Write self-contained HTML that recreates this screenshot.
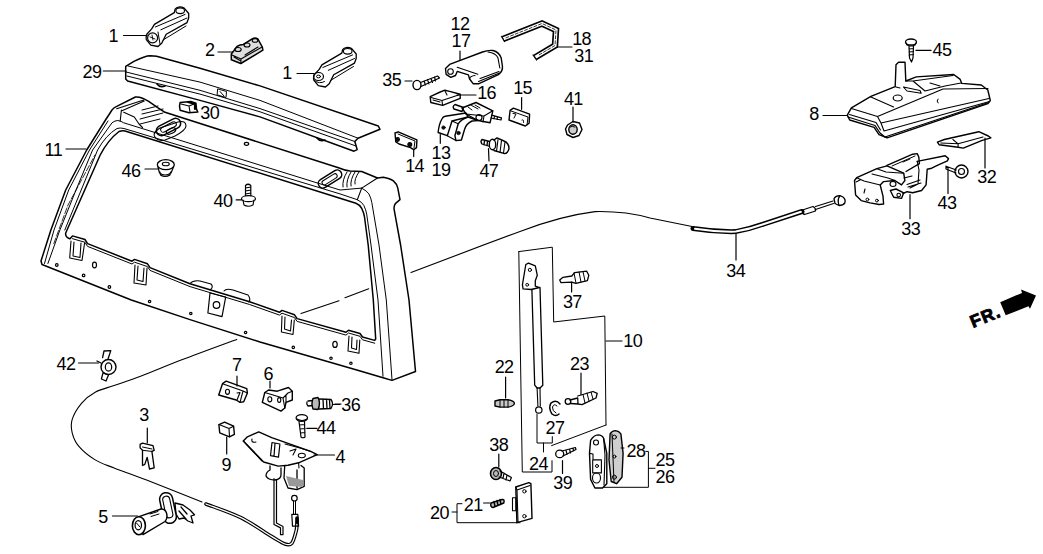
<!DOCTYPE html>
<html><head><meta charset="utf-8"><style>
html,body{margin:0;padding:0;background:#fff;width:1043px;height:554px;overflow:hidden}
svg{display:block}
text{font-family:"Liberation Sans",sans-serif;font-size:18px;letter-spacing:-0.6px;fill:#000}
</style></head><body>
<svg width="1043" height="554" viewBox="0 0 1043 554">
<g fill="none" stroke="#000" stroke-width="1.2" stroke-linecap="round" stroke-linejoin="round">
<line x1="123.5" y1="35.5" x2="147" y2="35.5"/>
<line x1="218" y1="52" x2="233" y2="52"/>
<line x1="103.3" y1="71" x2="126" y2="71"/>
<line x1="297" y1="73.5" x2="314" y2="73.5"/>
<line x1="66" y1="149" x2="86" y2="149"/>
<line x1="145" y1="169" x2="158" y2="169"/>
<line x1="405" y1="81" x2="412" y2="81"/>
<line x1="457" y1="95" x2="476" y2="95"/>
<line x1="460" y1="51" x2="460" y2="60"/>
<line x1="555" y1="47" x2="572" y2="47"/>
<line x1="521.6" y1="97.6" x2="521.6" y2="109.3"/>
<line x1="573" y1="107" x2="573" y2="122"/>
<line x1="916" y1="50.4" x2="931" y2="50.4"/>
<line x1="823" y1="115.5" x2="847" y2="115.5"/>
<line x1="985" y1="138" x2="985" y2="168"/>
<line x1="948" y1="168" x2="948" y2="193.5"/>
<line x1="910" y1="194.7" x2="910" y2="218.7"/>
<line x1="736" y1="234" x2="736" y2="260"/>
<line x1="571.6" y1="282" x2="571.6" y2="292"/>
<line x1="606" y1="341" x2="622" y2="341"/>
<line x1="581" y1="373" x2="581" y2="394.5"/>
<line x1="505.6" y1="377" x2="505.6" y2="398"/>
<line x1="78.5" y1="363" x2="98.5" y2="363"/>
<line x1="237" y1="376" x2="237" y2="386"/>
<line x1="270" y1="381" x2="270" y2="388"/>
<line x1="335" y1="404" x2="341" y2="404"/>
<line x1="147.3" y1="428" x2="147.3" y2="443"/>
<line x1="306.8" y1="428.4" x2="317" y2="428.4"/>
<line x1="226.7" y1="437" x2="226.7" y2="454"/>
<line x1="314" y1="455" x2="334.5" y2="455"/>
<line x1="498.8" y1="454" x2="498.8" y2="467"/>
<line x1="562.5" y1="460.7" x2="562.5" y2="473.4"/>
<line x1="112.5" y1="516" x2="137.7" y2="516"/>
<line x1="483.6" y1="503" x2="490" y2="503"/>
<line x1="440.3" y1="134.6" x2="440.3" y2="143.3"/>
<line x1="413.7" y1="150" x2="413.7" y2="156.6"/>
<line x1="488.5" y1="148.7" x2="489" y2="161"/>
<line x1="236.2" y1="199.9" x2="241.5" y2="199.9"/>
<!-- FRAME 11 -->
<path stroke-width="1.5" d="M42,264.5 L41,261 L50.9,230 L65.7,190 L86.7,150 L105.5,120 L112,110 Q114,107.5 116.7,106.4 L135.4,97 Q139,96.8 142.5,98.2 L148.3,101.1 L157.7,107.6 L165,112.3 L337.7,167.5 Q345,170.5 350,171 L361.7,171.5 L377.5,178 L383.3,177.3 Q390,178.5 393.4,180.9 Q397,184 397.8,188.1 L400,199.7 L395.6,203.3 Q393.5,206 394.2,209.8 L400.6,245 L409,300 L415.5,371.5 L392,380.4 L383.9,378 L356.8,370 L260,342 L190,319.6 L131.3,300 Z"/>
<!-- window B thick -->
<path stroke-width="1.5" d="M69.7,238.7 Q65,237 65.7,233 L100.2,155 Q108,140 119,131.5 Q122,130.5 125,131 L340,198.2 L355.9,203.3 Q360,205 361.7,208.3 Q364,213 364.5,217 L368.2,245 L373.3,300 L375.7,339 L374.7,340.4 L362.5,337.0 L360.0,333.5 L348.5,330.2 L346.0,332.3 L297.2,318.6 L297.0,318.5 L294.5,314.8 L282.0,310.4 L279.5,312.3 L249.6,301.7 L209.9,289.8 L190.0,283.8 L150.0,267.6 L147.5,263.8 L134.5,259.4 L132.0,261.2 L87.6,243.6 L87.5,243.6 L85.0,239.5 L72.5,235.9 L70.0,238.7 L69.7,238.7 Z"/>
<!-- window A -->
<path stroke-width="1" d="M64.8,230 L97.6,150 Q106,135 117,128.5 Q120,127.5 124,128.5 L340,193.9 L357.3,199.7 Q362,202 363.8,205.4 Q366,210 366.7,214.1 L371,245 L378,300 L383,376.3"/>
<path stroke-width="1" d="M374.7,343.2 L362.5,339.8 L360.0,336.3 L348.5,333.0 L346.0,335.1 L297.2,321.4 L297.0,321.3 L294.5,317.6 L282.0,313.2 L279.5,315.1 L249.6,304.5 L209.9,292.6 L190.0,286.6 L150.0,270.4 L147.5,266.6 L134.5,262.2 L132.0,264.0 L87.6,246.4 L87.5,246.4 L85.0,242.3 L72.5,238.7"/>
<!-- bevel lines -->
<path stroke-width="1" d="M47.9,263.5 L59.9,230 L76,190 L92.6,150 L112,122.8 Q115,120.5 117.8,120.5 Q121,121 123.7,122.8 L340,190 L361.7,188.1"/>
<path stroke-width="1" d="M361.7,188.1 Q367,191 368.9,193.9 Q371,198 371.8,202.5 L379,245 L386.3,300 L392,379.6"/>
<path stroke-width="0.8" stroke-dasharray="6 2" d="M53.8,243.6 L68,205 L95,155"/>
<path stroke-width="1" d="M44.5,263.5 L54,230 L68.7,190 L89.5,150 L108,121"/>
<!-- cap -->
<path stroke-width="1.1" d="M116.7,108.8 L143.7,100 M121.4,111.1 L144.2,101.1 M121.4,110 L120.2,121.1 M123.7,112.3 L134.3,117 L139,124 L142.5,127.5"/>
<path stroke-width="1.1" d="M377.5,178 L361.7,188.1 L357.3,199.7"/>
<!-- frame top corner details (left) -->
<path stroke-width="1.1" d="M157,139 Q150,134 160,128 L178,122 Q186,120 186,126 Q186,130 175,136 L165,140 Q160,141 157,139 Z"/>
<ellipse cx="171" cy="131" rx="5" ry="2.5" transform="rotate(-25 171 131)"/>
<path stroke-width="1" d="M142,110 L158,106 M142,114 L163,109 M140,119 L163,113 M140,124 L160,119"/>
<!-- frame right corner louvers -->
<g transform="rotate(-32 330 179)">
<rect x="317" y="174.5" width="26" height="9" rx="4.5" stroke-width="1.5"/>
<rect x="321" y="176.8" width="17" height="4.5" rx="2.2" stroke-width="1"/>
</g>
<path stroke-width="1" d="M343,187 Q342,180 347,172 M347,187 Q346,180 351,172 M351,186 Q350,180 355,172 M355,184 Q354,179 359,172"/>
<!-- holes -->
<ellipse cx="246.5" cy="143.8" rx="2.2" ry="1.5"/>
<circle cx="56.8" cy="265" r="1.3"/><ellipse cx="94.5" cy="265" rx="2" ry="2.8"/><circle cx="83.6" cy="275.4" r="1.3"/><circle cx="109.4" cy="287" r="1.3"/>
<circle cx="245.6" cy="332.5" r="1.2"/><circle cx="293.3" cy="347.4" r="1.2"/><ellipse cx="335" cy="344.4" rx="2.2" ry="3"/><circle cx="331" cy="358.3" r="1.2"/><circle cx="350.9" cy="363.3" r="1.2"/>
<circle cx="190.8" cy="313.5" r="1.2"/><circle cx="149.6" cy="301.5" r="1.2"/>
<!-- tabs -->
<path stroke-width="1.1" d="M71,241 L69.7,258 L82,260.5 L84.6,243 M74,242 L73,256 L80,257.5 L81,243"/>
<path stroke-width="1.1" d="M135,265 L134,283 L146,285 L147,268 M138,266 L137,280 L143,281.5 L144,268"/>
<path stroke-width="1.1" d="M282,316 L281.4,332 L293,334.5 L294.3,320 M285,317 L284.5,329 L290.5,331 L291.5,320"/>
<path stroke-width="1.1" d="M349,336 L348,351 L359,353.3 L359.8,340 M352,337 L351.5,348 L356.5,349.5 L357,340"/>
<!-- striker pocket -->
<path stroke-width="1.2" d="M210,293 L207.9,313 L222,316.6 L225.7,297 Z"/>
<circle cx="216.5" cy="305" r="3.3"/>
<path stroke-width="1.1" d="M190,283.5 Q193,280 200,281 L211,284 Q214,287 210,290 M224,291 Q226,288 233,290 L248,295 Q251,299 249,302"/>
<!-- SPOILER 29 -->
<path stroke-width="1.5" d="M125.7,66.4 L133.9,61.4 Q145,55.7 150.3,55.7 L156.6,56.3 L200,68.2 L260,85.9 L378.3,126 L380,129.3 L358,138.2 L354.8,141.5 L357.2,149.6 L354,151.2 L260,116.9 L200,100.4 L127.6,81 L125.7,79 Z"/>
<path stroke-width="1" d="M128,66 L200,82.1 L260,100.4 L358,138.2"/>
<path stroke-width="1" d="M126,72 L200,90.3 L260,108.6 L354.8,141.5 M127,76 L200,94.1 L260,111.8 L356,146"/>
<path stroke-width="1" d="M218,89 L226.5,91.5 L226,97.5 L217.5,95 Z M220,91.5 L224,96"/>
<path stroke-width="1.6" d="M157,84 Q160,88 165,86 M317,138 Q320,142 325,140"/>
<!-- CABLE 34 -->
<path stroke-width="1.1" d="M411,272.6 Q470,250 520,231.5 Q560,216 595,211.6 Q625,211 650,218 L692,226.5"/>
<path stroke-width="5" d="M693,228.5 Q715,232 735.6,231.6 Q750,229 763.3,224.2 L802,211.5"/>
<path stroke="#fff" stroke-width="2" d="M695,228.8 Q715,232 735.6,231.6 Q750,229 763.3,224.2 L801,211.8"/>
<path stroke-width="1.1" d="M368.7,288.8 L345,297.7 M339,300.7 L301,313.6 M236.7,339.4 C227.5,342.8 197.7,353.7 181.8,359.8 C165.9,365.9 152.5,371.7 141.2,376.0 C129.9,380.3 121.8,382.8 114.1,385.5 C106.4,388.2 100.6,389.3 95.2,392.2 C89.8,395.1 85.5,398.6 81.7,403.1 C77.9,407.6 73.8,414.4 72.2,419.3 C70.6,424.2 71.1,428.3 72.2,432.8 C73.3,437.3 75.1,441.9 78.9,446.4 C82.7,450.9 89.3,456.3 95.2,459.9 C101.1,463.5 105.5,464.6 114.1,468.0 C122.7,471.4 131.9,474.3 146.6,480.0 C161.2,485.7 192.8,498.3 202.0,502.0"/>
<path stroke-width="3.6" d="M206.0,504.0 C211.8,506.3 230.0,512.3 240.9,517.7 C251.8,523.1 264.1,532.0 271.5,536.4 C278.9,540.8 281.6,542.9 285.0,544.0 C288.4,545.1 289.9,545.3 291.8,543.2 C293.7,541.1 295.2,534.4 296.1,531.3 C297.0,528.2 296.8,525.6 296.9,524.5 L297,518"/>
<path stroke="#fff" stroke-width="1.3" d="M206.0,504.0 C211.8,506.3 230.0,512.3 240.9,517.7 C251.8,523.1 264.1,532.0 271.5,536.4 C278.9,540.8 281.6,542.9 285.0,544.0 C288.4,545.1 289.9,545.3 291.8,543.2 C293.7,541.1 295.2,534.4 296.1,531.3 C297.0,528.2 296.8,525.6 296.9,524.5"/>
<!-- BRACKETS -->
<path stroke-width="1" d="M518.8,251.6 L552.3,247.2 L553.7,322 L604.8,316 L606,425 M606,425 L551.6,445.6 M518.8,251.6 L522.3,472 L552,472 L552,460.7"/>
<path stroke-width="1" d="M537,414 L537,443 L552.3,443 L552.3,436.7 M543.5,443 L543.5,452"/>
<path stroke-width="1" d="M645.8,451.4 L648.4,451.4 L648.4,487.3 L603.4,487.3 M648.4,468.3 L655,468.3"/>
<path stroke-width="1" d="M452,512 L457,512 M462,503.7 L457,503.7 L457,522.7 L520,522.7"/>
<!-- FR arrow -->
<polygon fill="#000" stroke="none" points="1000.2,302.3 1022,292.9 1021,289.4 1036,295.4 1030,308.8 1028.5,306.3 1005.7,315.3"/>

<!-- PART 1 (top) -->
<g id="p1">
<path stroke-width="1.3" d="M146.8,34.3 Q145.5,38 146.3,39.7 L150.8,45.1 L158,46.5 L161.7,43.3 L166.2,34.3 L187,22.6 L188.7,18 L188.7,13.5 L184.2,8.1 Q182,6.8 179.7,6.8 Q176,7.5 175.2,9 L174.3,12.6 L154.4,24.4 L151.7,28.9 Z"/>
<circle cx="152.6" cy="37.9" r="5" stroke-width="1.2"/>
<path stroke-width="0.9" d="M150,37 L155,39 M152,35 L153,40"/>
<ellipse cx="180.2" cy="10.8" rx="4.3" ry="2.8" stroke-width="1.1"/>
<path stroke-width="1" d="M155.3,27 L185.1,14.4 M160.8,29.8 L187,18 M158,32 L160,44 M163,40 L186,26"/>
</g>
<!-- PART 1b -->
<g transform="translate(167.5,40.5)">
<path stroke-width="1.3" d="M146.8,34.3 Q145.5,38 146.3,39.7 L150.8,45.1 L158,46.5 L161.7,43.3 L166.2,34.3 L187,22.6 L188.7,18 L188.7,13.5 L184.2,8.1 Q182,6.8 179.7,6.8 Q176,7.5 175.2,9 L174.3,12.6 L154.4,24.4 L151.7,28.9 Z"/>
<ellipse cx="151" cy="36" rx="5" ry="4" stroke-width="1.2"/>
<ellipse cx="151" cy="36" rx="2" ry="1.4" stroke-width="1"/>
<ellipse cx="180.2" cy="10.8" rx="4.3" ry="2.8" stroke-width="1.1"/>
<path stroke-width="1" d="M155.3,27 L185.1,14.4 M160.8,29.8 L187,18 M163,40 L186,26 M147,40 Q152,44 157,41"/>
</g>
<!-- PART 2 -->
<path stroke-width="1.5" fill="#ddd" d="M231.3,54 L231.3,59.7 L240.8,63.5 L262.9,50.2 L262.3,47 L257.8,38.8 Q255,37 252.2,38.8 L243.3,44.5 Q240,44.5 237,46.4 L233.8,50.8 Z"/>
<path stroke-width="1.1" d="M232,55 L241,59 L262,47 M241,59 L240.8,63.5 M234,57 L240,60.5 M245,55 L258,47"/>
<ellipse cx="238" cy="49.5" rx="3.2" ry="2" stroke-width="1.1"/>
<ellipse cx="247" cy="45" rx="3" ry="2" stroke-width="1.1"/>
<ellipse cx="255" cy="40.5" rx="2.8" ry="1.8" stroke-width="1.1"/>
<!-- PART 30 -->
<path stroke-width="1.5" d="M180.1,102.6 L190.8,101.4 L195.9,103.3 L196.5,109 L197.8,112.1 L189,112.7 L180.1,110.2 L179.5,105.8 Z"/>
<path stroke-width="1.1" d="M181,104 L189,106 L190,112 M189,106 L195.9,103.3"/>
<path stroke-width="2.2" d="M188,102 L195,104 L195,109"/>
<!-- slot on frame top left -->
<g transform="rotate(-27 168.5 127)">
<rect x="155.5" y="122" width="26" height="10" rx="5" stroke-width="1.5"/>
<rect x="160" y="124.5" width="17" height="5" rx="2.5" stroke-width="1"/>
</g>
<!-- PART 46 nut -->
<ellipse cx="165.8" cy="164.7" rx="8.5" ry="5" stroke-width="1.3"/>
<ellipse cx="165.8" cy="164" rx="3.5" ry="1.8" stroke-width="1.1"/>
<path stroke-width="1.2" d="M158,167 L159.5,173 Q165,177 171,173 L173.5,167 M160,172 L160.5,175 Q165,178 170,175 L170.5,172"/>
<!-- PART 40 bolt -->
<path stroke-width="1.2" d="M245.5,195.5 L245.5,185.5 Q248,183 250.8,185.5 L250.8,195.5 M245.5,188 L250.8,187 M245.5,191 L250.8,190 M245.5,194 L250.8,193"/>
<ellipse cx="248.5" cy="198.7" rx="7" ry="3" stroke-width="1.2"/>
<path stroke-width="1.2" d="M243,200 L244,205 Q248,207.5 253,205 L254,200"/>
<!-- PART 12 cover -->
<path stroke-width="1.4" d="M445.5,68.5 L446.1,74.3 L450.8,77.3 L455.5,75.5 L457.2,71.4 L468.4,74.9 L469.6,79 L473.1,83.7 L479,83.7 L498.9,74.3 Q503,71 502.4,66 L501.2,58 Q499,52 493,50.5 Q488,50 482.5,52 L449.6,64.4 Z"/>
<path stroke-width="1.1" d="M457.2,67.3 L477.8,74.3 M469.6,79 Q470,76 475,75.5 M480.1,78.5 L499,71.5 M478.5,81.5 L499.5,73 M488,52 Q496,53 498,58 L499.8,68"/>
<circle cx="450.5" cy="71.5" r="2.8" stroke-width="1.1"/>
<!-- PART 35 screw -->
<ellipse cx="417" cy="85" rx="4" ry="4.6" stroke-width="1.4"/>
<path stroke-width="1.2" d="M420.5,82.5 L437.5,76 L439.5,78 L421,86.5 M424,81 L425.5,85 M427.5,79.5 L429,84 M431,78.5 L432.5,82.5 M434.5,77 L435.5,81"/>
<!-- PART 16 connector -->
<path stroke-width="1.4" d="M430.2,96.6 L430.8,102.5 L442.6,105.4 L460.2,98.4 L460.2,94.3 L449.6,91.4 L444.9,90.2 L440.2,92 Z"/>
<path stroke-width="1.1" d="M431,97.5 L442,100.5 L460,94.5 M442,100.5 L442.6,105.4 M433,100 L440,102 M445,91 L447,95"/>
<!-- PART 18 rod -->
<path stroke-width="6.5" stroke-linecap="butt" stroke-linejoin="miter" d="M503,39 L542,23.5 L556,30 L555,45.5 L535,57.5"/>
<path stroke="#fff" stroke-width="3.2" stroke-linecap="butt" stroke-linejoin="miter" d="M503.5,38.8 L542,23.5 L556,30 L555,45.5 L535.5,57.2"/>
<path stroke-width="0.8" stroke-dasharray="3 2" d="M506,37.8 L542,23.5 L556,30 L555,45.5 L538,55.5"/>
<path stroke-width="1.2" d="M501.5,36.5 L504.5,41.5 M533,55 L536.5,60"/>
<!-- PART 13 hinge -->
<path stroke-width="1.4" d="M462,108 L476,102.5 L492.8,110.8 L490.1,122.7 L478,120.5 L466,114 Z"/>
<path stroke-width="1.1" d="M466,114 L484,116 L492.8,110.8 M484,116 L483,122"/>
<circle cx="479" cy="117.5" r="3" stroke-width="1.2"/>
<path stroke-width="1" d="M468,107 L472,110 M475,105 L480,108 M470,104.5 L478,109"/>
<path stroke-width="1.4" d="M455,104.5 Q452,106.5 454,109 L462,111.5 L463.5,107.5 Z"/>
<path stroke-width="1.2" d="M491.7,115.2 L501.5,117.9 L501,120 L491,118 M494.5,116 L494,119 M497.5,117 L497,119.5"/>
<path stroke-width="1.4" d="M445.2,116.2 L466,113 L468,117 L452,121 L447.3,135.7 L438.1,132.5 Q439,124 441.9,119 Q443,116.5 445.2,116.2 Z"/>
<path stroke-width="1.4" d="M468,117 L478,120.5 L472,121 Q466,124 464.6,129.2 L461.4,140 L456,140.6 L454.9,135.7 L458.2,123.8 Q461,119.5 468,117 Z"/>
<path stroke-width="1.1" d="M447.3,135.7 L456,140.6 M452,121 L458.2,123.8"/>
<circle cx="443.5" cy="127.6" r="1.7" fill="#111" stroke-width="0.8"/>
<circle cx="458.5" cy="133" r="1.7" fill="#111" stroke-width="0.8"/>
<!-- PART 15 plate -->
<path stroke-width="1.4" d="M510.1,110.3 L513.4,108.1 L529.6,114.1 L529.1,123.3 L525.3,126 L509,120 Z"/>
<path stroke-width="1" d="M511,111 L528,117 L527,125 M513,113.5 L516,114 L514,118 M522,120 Q524,119 523.5,122.5"/>
<!-- PART 47 bolt -->
<path stroke-width="1.3" d="M482,139.5 Q480,141.5 482,144 L490,146.5 L491.5,142 Z M484.5,140.5 L484,144.8 M487.5,141.3 L487,145.6"/>
<ellipse cx="492.5" cy="144.5" rx="3.2" ry="5.3" stroke-width="1.4" fill="#fff"/>
<path stroke-width="1.4" d="M494,140 L497,137.9 L504,141 Q509,143 509,148.7 Q507.5,153.5 504.7,153.6 L493.9,150.5"/>
<path stroke-width="1.1" d="M498,139.5 L496.5,151.5 M501.5,140.5 L500,152.5 M505,142 L503.5,153"/>
<!-- PART 14 -->
<path stroke-width="1.4" d="M395,133 L398.2,131.8 L416.9,139.9 L416.5,147.6 L413.7,149.7 L410.4,147.6 L399.1,144 L395.8,141.9 Z"/>
<path stroke-width="1" d="M398,134 L415,141 L414,148"/>
<circle cx="397.6" cy="139.5" r="1.8" fill="#111"/>
<circle cx="409.8" cy="144.6" r="1.9" fill="#111"/>
<!-- PART 41 nut -->
<path stroke-width="1.4" d="M567.5,125 L573,121.5 L579.5,123 L582,129.5 L579,135.5 L573,137.5 L567,134.5 L565.5,129 Z"/>
<ellipse cx="573" cy="129.5" rx="4.2" ry="4.8" stroke-width="1.4" fill="#ccc"/>
<path stroke-width="1" d="M570,127 Q572,125.5 575,127"/>

<!-- PART 45 screw -->
<ellipse cx="911" cy="42" rx="5.5" ry="3" stroke-width="1.3"/>
<path stroke-width="1.2" d="M906,43 L907,45 Q911,47 915,45 L916,43 M909,46 L909.5,58 L911.5,62 L913,58 L913.5,46 M909,49 L913.5,48.5 M909,52 L913.5,51.5 M909,55 L913.5,54.5"/>
<!-- PART 8 lamp -->
<path stroke-width="1.4" d="M847.3,115.1 L851.4,107.8 L870.9,96.4 L895.2,86.7 L896,64.7 L898.5,62.3 L905,62.3 L905.8,81 L916.3,76.9 L953.7,74.5 L960.2,79.4 L961.8,83.4 L981.3,85 L987.8,90 L990.3,100.5 L987.8,103.7 L887.1,137.8 L879,134.6 L874.1,127.3 L849.7,120 Z"/>
<path stroke-width="1.1" d="M851.4,108.5 L877.5,116.5 L881,123 L884,131 M849.5,114.5 L876,122.5 L880.5,130 M877.5,116.5 L943,89 L988,88.5 M870.9,97 L893.6,107 M881,123 L989,98.5 M884,131 L989.5,101.5 M896,87 L900,88 M905.8,81 L913,81 L953,75.5 M913,81 L925,91 L945,86 L961,83"/>
<path stroke-width="1.1" d="M903.4,87 L920,90.5 L921.2,93.2 L907,91 Z M930,83 L940,86"/>
<ellipse cx="897.7" cy="98" rx="4.5" ry="3" stroke-width="1.2"/>
<path stroke-width="1.3" d="M848,117 L875,125.5 L880,133 L885,137 L988.5,102.5"/>
<path stroke-width="1" d="M938,99 Q936,101 938,103"/>
<!-- PART 32 pad -->
<path stroke-width="1.4" d="M937.4,142.1 L939.1,144.7 L958.1,147.3 L963.3,148.1 L982.2,140.4 L990.9,137.8 L988.3,136 L978.8,131.7 L944.3,139.5 Z"/>
<path stroke-width="1.1" d="M940.8,143 L958.1,143.8 L983,137 M952.9,139.5 L958.1,143.8 L958.1,147.3"/>
<!-- PART 33 latch -->
<path stroke-width="1.4" d="M856.7,177.7 L854.5,180.5 L855.6,195 L861.2,200.6 L870.1,202.9 L879.1,204.5 L883.6,204 L883,196.1 L880.2,185 L883.6,181.6 L894.8,180.5 L901.5,184.9 L904.9,180.5 L903.7,173.2 L887,165.9 L876.9,168.7 Z"/>
<path stroke-width="1.1" d="M856.7,177.7 L864,181 L880.2,185 M876.9,168.7 L886,172 L903.7,173.2 M872,174 L888,178 L894.8,180.5 M865,189 L864,193 M856,182 L860,180"/>
<path stroke-width="1.4" d="M887,165.4 L912.7,154.2 L917.2,153.6 L918.8,157 L919.4,163.7 L906,171.5"/>
<path stroke-width="1" d="M892,166 L915,156 M903,162 L910,159"/>
<path stroke-width="1.4" d="M917.2,161.4 L945.2,155.8 L948.5,158.6 L947.4,160.9 L937.3,165.4 L931.7,168.2 L927.2,169.3 L926.1,184.9 L921.6,190.5 L912.7,192.8 L907.1,191.7 L903,193.5"/>
<path stroke-width="1.1" d="M917.2,161.4 L919,170 L918,184 L910,188 M908,187 L921,183 M907,184.5 L920,180 M904,178 L912,176"/>
<path stroke-width="1.4" d="M890.3,190.5 L893.7,197.3 L901.5,198.4 L903.7,192.8 L896,189 Z"/>
<circle cx="898.7" cy="195" r="1.8" stroke-width="1.1"/>
<circle cx="867.4" cy="199.5" r="1.4" stroke-width="1"/>
<circle cx="876.9" cy="200.6" r="1.4" stroke-width="1"/>
<ellipse cx="893" cy="184" rx="3" ry="2.5" stroke-width="1.1"/>
<!-- PART 43 bolt -->
<circle cx="961.5" cy="171.5" r="6.5" stroke-width="1.4"/>
<circle cx="961.5" cy="171.5" r="3" stroke-width="1.1"/>
<path stroke-width="1.2" d="M946,166.2 L956.3,170 M946,169 L956,173 M946,166.2 L946,169"/>
<!-- cable end ferrule -->
<path stroke-width="1.2" d="M815.5,206.5 L833,201 M815.5,209.5 L833.5,203.5"/>
<path stroke-width="1.3" d="M802.5,210 L813,206.5 Q816,208 815.5,211 L804.5,214.5 Q802,213.5 802.5,210 Z"/>
<path stroke-width="1.3" d="M834,198.5 Q836,195.5 840,195.7 L843,197 Q846,199.5 844.8,203 Q843,205.5 839,205.5 L835,203.5 Z M840,195.7 Q837,199 839,205.5"/>
<!-- GAS STRUT 10 -->
<path stroke-width="1.3" d="M525.8,264.5 L528.5,263.1 L535.3,265.8 L537.3,275.3 L535.3,280.7 L535.3,286.1 L539.4,287.5 L531.2,289.5 L523.1,288.8 L522.4,284.8 Z"/>
<circle cx="529.9" cy="269.9" r="1.6" stroke-width="1"/>
<circle cx="527.2" cy="284.8" r="1.4" stroke-width="1"/>
<path stroke-width="1.3" d="M531.9,289.5 L534.7,385.2 L537.1,388 L540,388 L542.8,385.2 L540,287.5"/>
<path stroke-width="1.1" d="M537.1,388 L537.9,406 M540,388 L540.3,406"/>
<circle cx="538.8" cy="410" r="3.2" stroke-width="1.2"/>
<!-- PART 37 bolt -->
<path stroke-width="1.3" d="M559.7,280 L563,277.3 L571.8,276 L574.6,272.6 L586.7,271.2 L588.8,275.3 L587.4,280.7 L575.9,283.4 L571.8,282.1 L561,282.7 Z"/>
<path stroke-width="1" d="M574,273 L576,283 M579,272 L581,282 M583,271.5 L585,281"/>
<!-- PART 22 bolt -->
<path stroke-width="1.4" fill="#c8c8c8" d="M495,401 L500,399.8 L508,399.8 Q514.4,401 514.4,403.5 Q514,406 508,407.1 L500,407.1 L495,406 Z"/>
<path stroke-width="1" d="M500,399.8 L500,407.1 M504,400 L504,407 M508,399.8 L508,407.1"/>
<!-- PART 23 bolt -->
<circle cx="568" cy="401.5" r="2.8" stroke-width="1.3"/>
<path stroke-width="1.3" d="M570,400 L577.7,398 L578,404 L570.5,403.5 M577.7,396 L593,391.5 L597.2,393.3 L596,398 L582,404.7 L578,404"/>
<path stroke-width="1" d="M583,394.5 L585,403 M587,393 L589,401 M591,392 L593,399"/>
<!-- PART 27 snap ring -->
<path stroke-width="1.5" d="M560,404 Q556,399 551,403 Q548,408 552,414 Q556,417 559,414"/>
<path stroke-width="1" d="M557,406 Q554,403 552.5,407 Q552,411 556,413"/>
<!-- PART 38 bolt -->
<ellipse cx="496" cy="473.5" rx="5.5" ry="6" stroke-width="1.6" fill="#bbb"/>
<ellipse cx="496" cy="473.5" rx="2.5" ry="3" stroke-width="1"/>
<path stroke-width="1.2" d="M500,471 L511.4,477.5 L510,481 L499,477 M504,473 L503,478.5 M507,475 L506,480"/>
<!-- PART 20 plate -->
<path stroke-width="1.4" d="M515.8,487 L528.8,482.6 L530.9,483.7 L532,518.4 L516.9,522.7 Z"/>
<path stroke-width="1.1" d="M515.8,487 L517,490 L530,485.5 M517,490 L518,522 M512.5,497.8 L515.8,497.8 L515.8,510.8 L512.5,510.8 Z"/>
<circle cx="524.4" cy="491.3" r="1.7" stroke-width="1"/>
<circle cx="524.4" cy="516.2" r="1.7" stroke-width="1"/>
<!-- PART 21 spring -->
<path stroke-width="1.4" fill="#bbb" d="M491,503 Q490,507 493,507.5 L503.8,503 Q505,499 502,499.5 Z M494,501.5 L495,506.5 M497,500.5 L498,505.5 M500,499.5 L501,504.5"/>
<!-- PART 39 screw -->
<ellipse cx="559.7" cy="453.9" rx="4" ry="3.8" stroke-width="1.3"/>
<path stroke-width="1.2" d="M562,451 L575.4,447.5 L576,449.5 L563,456 M566,450 L567,454.5 M569.5,449 L570.5,453 M573,448 L573.5,451"/>
<!-- PART 25/26 plates -->
<path stroke-width="1.4" d="M590.6,440.3 Q594,435 598.1,434.9 Q602,435 603.6,438.2 L606.8,453.4 L606.8,483.7 L602.5,488 L594.9,488 L590.6,479.4 L589.5,453.4 Z"/>
<path stroke-width="1.1" d="M589.5,453.4 L593,454 L593,459.9 L601.4,459.9 L601.4,472.9 L592.7,472.9 L592.7,459.9 M603.6,438.2 L605,455 L604,485"/>
<circle cx="596" cy="442.5" r="2.5" stroke-width="1.1"/>
<ellipse cx="596.5" cy="478" rx="4" ry="5" stroke-width="1.1"/>
<circle cx="597" cy="466" r="1.5" stroke-width="1"/>
<path stroke-width="1.4" fill="#cfcfcf" d="M610.1,433.8 Q612,430.6 615.5,430.6 Q619,431 620.9,433.8 L623.1,453.4 L622,477.2 L616.6,483.7 L611.2,481.5 L609,459.9 Z"/>
<path stroke-width="1" d="M612,434 L614,482 M621,448 L624,448"/>
<circle cx="614.4" cy="437.1" r="2" stroke-width="1"/>
<circle cx="614.4" cy="456.6" r="1.5" stroke-width="1"/>
<circle cx="614.4" cy="477.2" r="2" stroke-width="1"/>
<!-- PART 7 -->
<path stroke-width="1.4" d="M218.7,395 L222.5,383.7 L226.2,381.2 L246.8,388.7 L247.4,393.1 L243.7,401.8 L240,402.4 L236.2,400 Z"/>
<path stroke-width="1.1" d="M222.5,383.7 L243,391 L247.4,393.1 M243,391 L240,402.4 M237,393 L240,392.5 L237,400"/>
<ellipse cx="227.5" cy="391.8" rx="2" ry="2.6" stroke-width="1.1"/>
<!-- PART 6 -->
<path stroke-width="1.4" d="M262.3,402.4 L264.8,392.5 L268.6,390 L277.3,391.2 L288.5,387.5 L292.3,391.2 L292.3,400 L286,402.4 L284.8,408 L281,411.1 Z"/>
<path stroke-width="1.1" d="M264.8,392.5 L283,398 L284.8,408 M283,398 L288,393 L292.3,391.2 M286,402.4 L286,395"/>
<ellipse cx="269.8" cy="399.3" rx="2" ry="2.6" stroke-width="1.1"/>
<ellipse cx="279.2" cy="400" rx="1.6" ry="2.4" stroke-width="1.1"/>
<!-- PART 36 bolt -->
<path stroke-width="1.3" d="M307,402 Q306,404 308,406 L313,405.5 M313,400.5 L308,401"/>
<path stroke-width="1.4" fill="#bbb" d="M313,398.5 L318,397.5 Q321,403 318,409.5 L313,409 Q311,403.5 313,398.5 Z"/>
<path stroke-width="1.3" d="M319,399 L331,399.5 Q334,403.5 331,408.5 L319,409 M323,399 L323.5,409 M326.5,399.2 L327,408.8 M329.5,399.3 L330,408.6"/>
<path stroke-width="1" d="M333.4,404.5 L340,404.5"/>
<!-- PART 44 screw -->
<ellipse cx="301.8" cy="418" rx="5.7" ry="3.3" stroke-width="1.3"/>
<path stroke-width="1.2" d="M297,419 Q302,422 307,419 M299,421.5 L301,437 Q303,438.5 305,437 L304.5,421.5 M299.5,425 L304.5,424.5 M300,429 L305,428.5 M300.5,433 L305,432.5"/>
<!-- PART 9 -->
<path stroke-width="1.4" d="M218.9,424.6 L219.7,432.8 L229.5,436.8 L234.4,434.4 L233.6,426.2 L224.6,422.2 Z"/>
<path stroke-width="1.1" d="M219,424.6 L229,428.5 L233.6,426.2 M229,428.5 L229.5,436.8"/>
<!-- PART 4 latch -->
<path stroke-width="1.4" d="M243.3,440.9 L247.4,436.8 L258.7,431.9 L271.7,437.6 L283.1,441.7 L310.7,451.4 L317.2,454.7 L298.6,462.8 L288,465.2 L278.2,466.1 L263.6,462 Z"/>
<path stroke-width="1.1" d="M243.3,440.9 L246,444 L262,461 M252,439 Q251,443 256,442 M285,444 L300,448 L310.7,451.4 M290,451 L296,449 L293,455 M298.6,462.8 L299,468"/>
<path stroke-width="1.2" d="M272,442.5 L279.9,444 L278.5,457.1 L270.5,455.6 Z M275,443.5 L274,456"/>
<ellipse cx="301.8" cy="455.5" rx="3.5" ry="2.2" stroke-width="1.1"/>
<path stroke-width="1.3" d="M270,466 L270,470 Q266,472 266,476 Q268,480 275,480 Q281,479 281,475 L281,468 M284.7,466 L284,478 L288,488 L297,489.7 L304.2,486.4 L304.2,468 L301,465.5 M288,478 L298,481 M291,482 L302,484 M297,470 L297,488"/>
<path stroke="none" fill="#999" d="M286,476 L303,480 L303,487 L289,486 Z"/>
<path stroke-width="1.2" d="M274,478.7 L274,524.5 L280.5,527.9 L280.5,534.7 M276.5,480 L276.5,523 L283,526.5 L283,534.7 M280.5,534.7 L283,534.7"/>
<circle cx="294.4" cy="498.2" r="2.8" stroke-width="1.2"/>
<path stroke-width="1" d="M293.5,501 L293.5,514.3 M295.5,501 L295.5,514.3"/>
<path stroke-width="1.2" d="M291.8,514.3 L297.8,514.3 L298.6,526.2 L292.5,526.2 Z"/>
<!-- PART 3 clip -->
<path stroke-width="1.3" d="M140.1,444.4 L142.5,443.2 L153,445.6 L154.2,450.3 L151.9,451.4 L154.2,467.9 L149.5,469 L147.2,457.3 L144.8,464.4 L142.5,465.5 L142.5,450.3 L140.1,447.9 Z"/>
<path stroke-width="1" d="M142.5,447 L152,449 M142.5,450.3 L151.9,451.4"/>
<!-- PART 42 clip -->
<ellipse cx="108.5" cy="367" rx="7.5" ry="7.5" stroke-width="1.4"/>
<ellipse cx="108.5" cy="367" rx="3.2" ry="4.2" stroke-width="1.2"/>
<path stroke-width="1.3" d="M102.6,357.6 L104,351 L110.8,350.6 L108,359 M101.4,379 L103,372.8 L108.5,375 L106,381 Z M101,363 L97,361"/>
<!-- PART 5 lock -->
<path stroke-width="1.3" d="M175,503 L183,505 L190,510 L194.5,514.8 L191,516 L193,523 L188,521 L184,518 L179,519 L176,514 Z M181,507 L187,514 M179,511 L186,519"/>
<g transform="rotate(-12 168 508)">
<rect x="161.5" y="492.5" width="13" height="31" rx="6.5" stroke-width="1.5" fill="#fff"/>
<rect x="164.5" y="496" width="7" height="22" rx="3.5" stroke-width="1.1"/>
</g>
<path stroke-width="1.4" fill="#fff" d="M139,516.7 L161,509 Q165,508.5 166.5,513 Q168,518 165,521.5 L143,534.6 Z"/>
<path stroke-width="1" d="M150,514 L158,511.5 M151,516.5 L159,514"/>
<ellipse cx="138.9" cy="525.7" rx="6.5" ry="9" stroke-width="1.6" fill="#fff"/>
<ellipse cx="138.3" cy="525.2" rx="3.2" ry="4.6" stroke-width="1.2"/>
<path stroke-width="1" d="M136.5,523 L140,527"/>

</g>
<g><text x="108.6" y="42.0">1</text>
<text x="205.1" y="56.0">2</text>
<text x="82.6" y="77.8">29</text>
<text x="282.3" y="78.5">1</text>
<text x="200.3" y="119.0">30</text>
<text x="44.6" y="155.5">11</text>
<text x="121.6" y="177.0">46</text>
<text x="213.6" y="207.0">40</text>
<text x="450.6" y="30.0">12</text>
<text x="451.6" y="47.0">17</text>
<text x="382.3" y="86.0">35</text>
<text x="477.2" y="98.7">16</text>
<text x="572.2" y="45.0">18</text>
<text x="574.3" y="62.0">31</text>
<text x="513.2" y="94.0">15</text>
<text x="563.9" y="104.6">41</text>
<text x="405.2" y="171.5">14</text>
<text x="431.5" y="158.6">13</text>
<text x="431.5" y="176.0">19</text>
<text x="479.4" y="177.4">47</text>
<text x="932.6" y="55.5">45</text>
<text x="809.2" y="120.0">8</text>
<text x="977.3" y="183.4">32</text>
<text x="937.6" y="208.6">43</text>
<text x="901.3" y="235.0">33</text>
<text x="726.3" y="277.0">34</text>
<text x="562.9" y="308.4">37</text>
<text x="623.3" y="347.0">10</text>
<text x="570.1" y="369.5">23</text>
<text x="494.7" y="373.0">22</text>
<text x="56.6" y="369.5">42</text>
<text x="232.1" y="371.0">7</text>
<text x="263.6" y="379.5">6</text>
<text x="341.3" y="410.7">36</text>
<text x="139.3" y="421.0">3</text>
<text x="316.6" y="434.0">44</text>
<text x="221.6" y="471.0">9</text>
<text x="335.4" y="463.0">4</text>
<text x="489.3" y="450.6">38</text>
<text x="545.6" y="434.0">27</text>
<text x="529.1" y="469.6">24</text>
<text x="553.3" y="488.6">39</text>
<text x="626.5" y="457.0">28</text>
<text x="655.6" y="466.0">25</text>
<text x="655.6" y="482.7">26</text>
<text x="430.1" y="519.0">20</text>
<text x="463.8" y="511.0">21</text>
<text x="98.3" y="523.0">5</text></g>
<text transform="translate(973,328) rotate(-22)" style="font-weight:bold;font-size:17.5px;letter-spacing:1.2px" stroke="#000" stroke-width="0.9">FR.</text>
</svg>
</body></html>
